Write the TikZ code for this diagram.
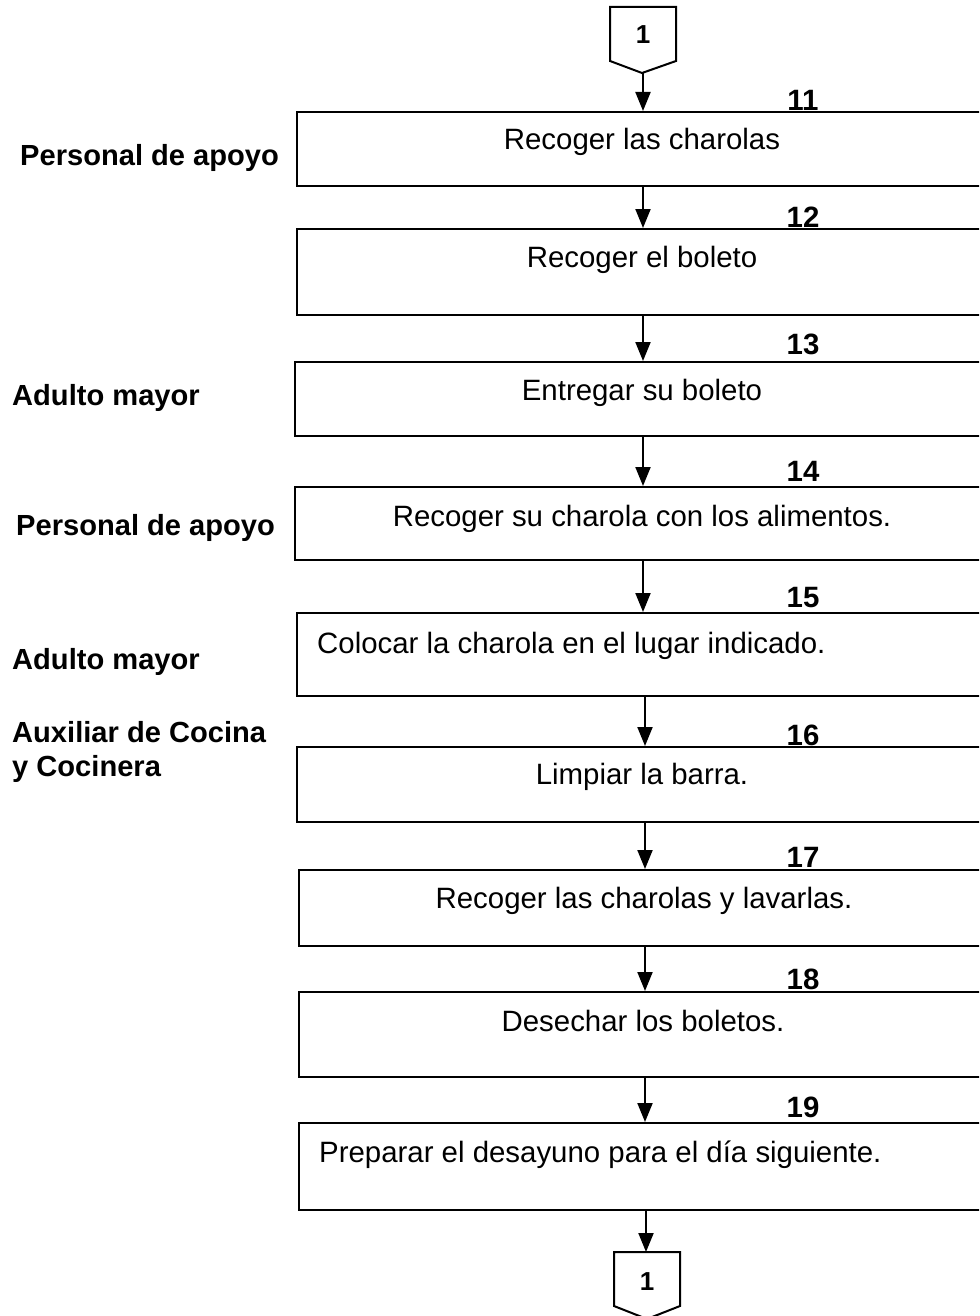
\documentclass[tikz,border=0pt]{standalone}
\usepackage{fontspec}
\setmainfont{Liberation Sans}
\usetikzlibrary{arrows.meta}
\begin{document}
\begin{tikzpicture}[x=1pt,y=-1pt,
  box/.style={draw=black,line width=2pt,inner sep=0pt,rectangle},
  btext/.style={inner sep=0pt,font=\fontsize{29.4}{33}\selectfont},
  num/.style={inner sep=0pt,anchor=base,font=\fontsize{29.4}{33}\selectfont\bfseries},
  role/.style={inner sep=0pt,anchor=base west,align=left,font=\fontsize{29.1}{34}\selectfont\bfseries},
  cnum/.style={inner sep=0pt,font=\fontsize{26}{29}\selectfont\bfseries},
  conn/.style={draw=black,line width=2pt,line join=miter},
  flow/.style={draw=black,line width=2pt,-{Triangle[width=15pt,length=19pt]}}]
\useasboundingbox (0,0) rectangle (979,1316);
\clip (0,0) rectangle (979,1316);
\coordinate (ax) at (643,0);
% top connector
\draw[conn] (610,7) -- (676,7) -- (676,61) -- (642,73) -- (610,61) -- cycle;
\node[cnum] (c1) at (643,35) {1};
\coordinate (c1tip) at (643,73);
% boxes
\node[box,minimum width=693pt,minimum height=74pt] (b11) at (643.5,149) {};
\node[box,minimum width=693pt,minimum height=86pt] (b12) at (643.5,272) {};
\node[box,minimum width=695pt,minimum height=74pt] (b13) at (642.5,399) {};
\node[box,minimum width=695pt,minimum height=73pt] (b14) at (642.5,523.5) {};
\node[box,minimum width=693pt,minimum height=83pt] (b15) at (643.5,654.5) {};
\node[box,minimum width=693pt,minimum height=75pt] (b16) at (643.5,784.5) {};
\node[box,minimum width=691pt,minimum height=76pt] (b17) at (644.5,908) {};
\node[box,minimum width=691pt,minimum height=85pt] (b18) at (644.5,1034.5) {};
\node[box,minimum width=691pt,minimum height=87pt] (b19) at (644.5,1166.5) {};
% box texts
\node[btext,anchor=base] (t11) at (642,150) {Recoger las charolas};
\node[btext,anchor=base] (t12) at (642,267) {Recoger el boleto};
\node[btext,anchor=base] (t13) at (642,400) {Entregar su boleto};
\node[btext,anchor=base] (t14) at (642,526) {Recoger su charola con los alimentos.};
\node[btext,anchor=base west] (t15) at (317,653) {Colocar la charola en el lugar indicado.};
\node[btext,anchor=base] (t16) at (642,784) {Limpiar la barra.};
\node[btext,anchor=base] (t17) at (644,908) {Recoger las charolas y lavarlas.};
\node[btext,anchor=base] (t18) at (643,1031) {Desechar los boletos.};
\node[btext,anchor=base west] (t19) at (319,1162) {Preparar el desayuno para el día siguiente.};
% numbers
\node[num] (n11) at (803,111) {11};
\node[num] (n12) at (803,227) {12};
\node[num] (n13) at (803,354) {13};
\node[num] (n14) at (803,481) {14};
\node[num] (n15) at (803,607) {15};
\node[num] (n16) at (803,745) {16};
\node[num] (n17) at (803,867) {17};
\node[num] (n18) at (803,989) {18};
\node[num] (n19) at (803,1117) {19};
% roles
\node[role] (r1) at (20,166) {Personal de apoyo};
\node[role] (r2) at (12,405) {Adulto mayor};
\node[role] (r3) at (16,535) {Personal de apoyo};
\node[role] (r4) at (12,669) {Adulto mayor};
\node[role] (r5) at (12,776) {Auxiliar de Cocina\\y Cocinera};
% bottom connector
\coordinate (c2top) at (646,1252);
\draw[conn] (614,1252) -- (680,1252) -- (680,1306) -- (647,1319) -- (614,1306) -- cycle;
\node[cnum] (c2) at (647,1282) {1};
% arrows
\draw[flow] (c1tip) -- (b11.north -| c1tip);
\draw[flow] (b11.south -| ax) -- (b12.north -| ax);
\draw[flow] (b12.south -| ax) -- (b13.north -| ax);
\draw[flow] (b13.south -| ax) -- (b14.north -| ax);
\draw[flow] (b14.south -| ax) -- (b15.north -| ax);
\coordinate (ax2) at (645,0);
\draw[flow] (b15.south -| ax2) -- (b16.north -| ax2);
\draw[flow] (b16.south -| ax2) -- (b17.north -| ax2);
\draw[flow] (b17.south -| ax2) -- (b18.north -| ax2);
\draw[flow] (b18.south -| ax2) -- (b19.north -| ax2);
\draw[flow] (b19.south -| c2top) -- (c2top);
\end{tikzpicture}
\end{document}
